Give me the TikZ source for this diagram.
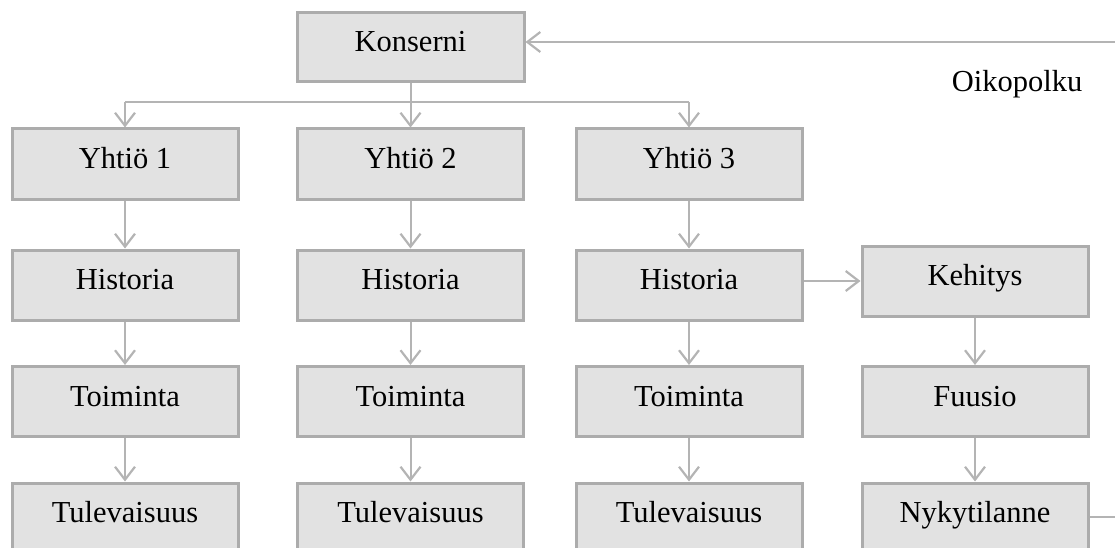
\documentclass[tikz,border=0pt]{standalone}
\usepackage{fontspec}
\setmainfont{Liberation Serif}
\usetikzlibrary{arrows.meta}
\definecolor{boxline}{RGB}{172,172,172}
\definecolor{boxfill}{RGB}{226,226,226}
\definecolor{conn}{RGB}{180,180,180}
\tikzset{
  box/.style={draw=boxline, line width=3pt, fill=boxfill, minimum width=226pt, minimum height=70pt,
    inner sep=0pt, text height=20pt, text depth=11pt, font=\fontsize{30.5}{36}\selectfont},
  arr/.style={draw=conn, line width=2pt, -{Straight Barb[length=13pt,width=20pt,line width=2.2pt]}},
  ln/.style={draw=conn, line width=2pt},
  lbl/.style={font=\fontsize{30.5}{36}\selectfont, inner sep=0pt}
}
\begin{document}
\begin{tikzpicture}[x=1pt,y=-1pt]
\useasboundingbox (0,0) rectangle (1115,548);
\clip (0,0) rectangle (1115,548);
\node[box, minimum width=227pt, minimum height=69pt] (k) at (410.5,47.5) {Konserni};
\node[box] (y1) at (125,164) {Yhtiö 1};
\node[box] (y2) at (410.5,164) {Yhtiö 2};
\node[box] (y3) at (689,164) {Yhtiö 3};
\node[box] (h1) at (125,285) {Historia};
\node[box] (h2) at (410.5,285) {Historia};
\node[box] (h3) at (689,285) {Historia};
\node[box] (t1) at (125,401.5) {Toiminta};
\node[box] (t2) at (410.5,401.5) {Toiminta};
\node[box] (t3) at (689,401.5) {Toiminta};
\node[box] (u1) at (125,518) {Tulevaisuus};
\node[box] (u2) at (410.5,518) {Tulevaisuus};
\node[box] (u3) at (689,518) {Tulevaisuus};
\node[box] (ke) at (975,281) {Kehitys};
\node[box] (fu) at (975,401.5) {Fuusio};
\node[box] (ny) at (975,518) {Nykytilanne};
\node[lbl, anchor=base] (oi) at (1017,92) {Oikopolku};
% tree branch
\coordinate (br) at (410.5,102);
\draw[ln] (k.south) -- (br);
\draw[ln] (br -| y1.north) -- (br -| y3.north);
\draw[arr] (br -| y1.north) -- (y1.north);
\draw[arr] (br) -- (y2.north);
\draw[arr] (br -| y3.north) -- (y3.north);
% columns
\foreach \c in {1,2,3}{
  \draw[arr] (y\c.south) -- (h\c.north);
  \draw[arr] (h\c.south) -- (t\c.north);
  \draw[arr] (t\c.south) -- (u\c.north);
}
\draw[arr] (h3.east |- ke.west) -- (ke.west);
\draw[arr] (ke.south) -- (fu.north);
\draw[arr] (fu.south) -- (ny.north);
% shortcut
\coordinate (r1) at (1115,42);
\coordinate (r2) at (1115,517);
\draw[ln] (ny.east |- r2) -- (r2);
\draw[arr] (r1) -- (r1 -| k.east);
\end{tikzpicture}
\end{document}
